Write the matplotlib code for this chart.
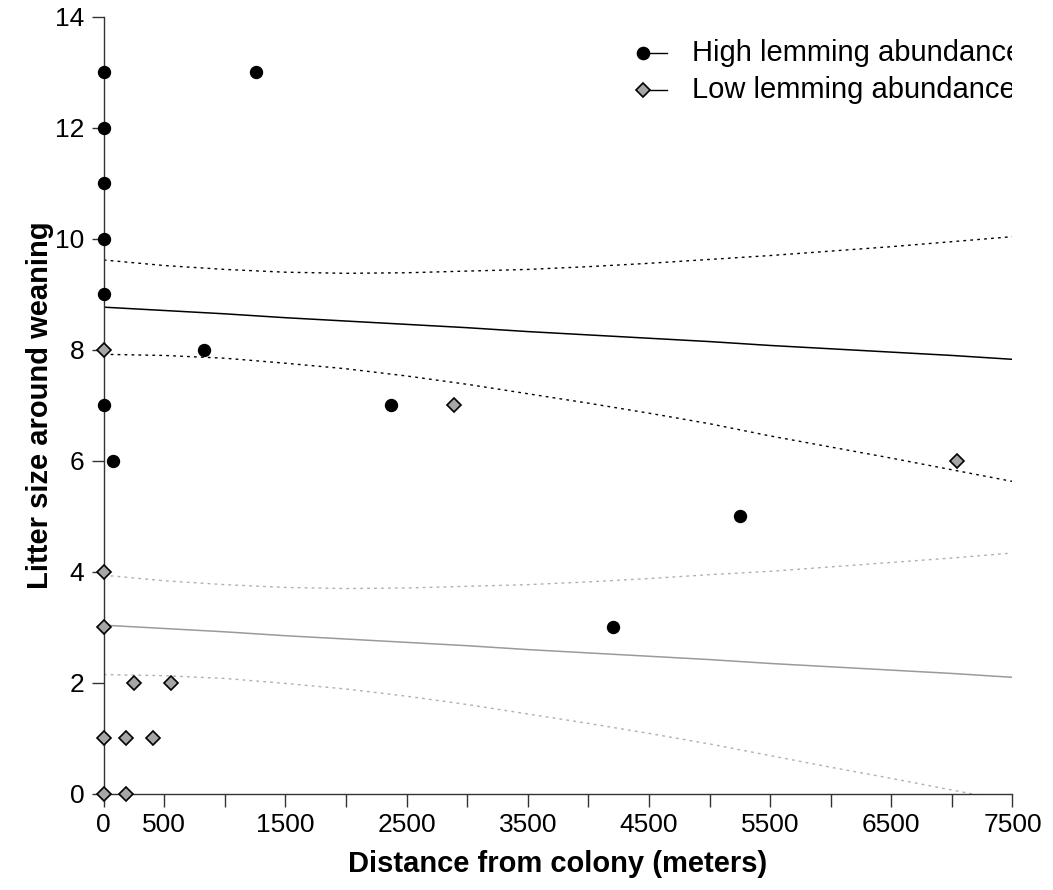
import matplotlib
matplotlib.use("Agg")
import matplotlib.pyplot as plt
import numpy as np

plt.rcParams['font.family'] = ['Liberation Sans', 'DejaVu Sans']

# observed litters
high_x = [0, 0, 0, 0, 0, 0, 80, 825, 1257, 2370, 4200, 5250]
high_y = [13, 12, 11, 10, 9, 7, 6, 8, 13, 7, 3, 5]
low_x = [0, 0, 0, 0, 0, 184, 184, 250, 404, 553, 2890, 7040]
low_y = [8, 4, 3, 1, 0, 1, 0, 2, 1, 2, 7, 6]

# fitted lines and confidence bands
fit_x = [0, 500, 1000, 1500, 2000, 2500, 3000, 3500, 4000,
         4500, 5000, 5500, 6000, 6500, 7000, 7500]
high_fit = [8.77, 8.71, 8.65, 8.58, 8.52, 8.46, 8.40, 8.33, 8.27,
            8.21, 8.15, 8.08, 8.02, 7.96, 7.90, 7.83]
high_upper = [9.62, 9.52, 9.45, 9.40, 9.38, 9.39, 9.42, 9.45, 9.50,
              9.56, 9.63, 9.70, 9.78, 9.86, 9.95, 10.04]
high_lower = [7.92, 7.90, 7.85, 7.76, 7.66, 7.53, 7.38, 7.21, 7.04,
              6.86, 6.67, 6.45, 6.25, 6.05, 5.84, 5.63]
low_fit = [3.04, 2.98, 2.92, 2.85, 2.79, 2.73, 2.67, 2.60, 2.54,
           2.48, 2.42, 2.35, 2.29, 2.23, 2.17, 2.10]
low_upper = [3.94, 3.84, 3.77, 3.72, 3.70, 3.71, 3.74, 3.77, 3.82,
             3.88, 3.95, 4.01, 4.09, 4.17, 4.25, 4.34]
low_lower = [2.15, 2.13, 2.08, 1.99, 1.89, 1.76, 1.61, 1.44, 1.27,
             1.09, 0.90, 0.69, 0.48, 0.28, 0.07, -0.14]

x_ticks = list(range(0, 7501, 500))
x_labels = ['0', '500', '', '1500', '', '2500', '', '3500', '', '4500',
            '', '5500', '', '6500', '', '7500']
y_ticks = [0, 2, 4, 6, 8, 10, 12, 14]

grey = '#a6a6a6'
grey_line = '#9a9a9a'

fig = plt.figure(figsize=(10.53, 8.9), dpi=100)
ax = fig.add_axes([0.0985, 0.108, 0.863, 0.873])

dots = dict(lw=1.0, dashes=(2, 3))
ax.plot(fit_x, high_fit, color='black', lw=1.1)
ax.plot(fit_x, high_upper, color='black', **dots)
ax.plot(fit_x, high_lower, color='black', **dots)
ax.plot(fit_x, low_fit, color=grey_line, lw=1.1)
ax.plot(fit_x, low_upper, color='#b0b0b0', **dots)
ax.plot(fit_x, low_lower, color='#b0b0b0', **dots)

ax.plot(high_x, high_y, 'o', color='black', ms=8.6, clip_on=False, zorder=5)
ax.plot(low_x, low_y, 'D', mfc=grey, mec='black', mew=1.2, ms=7,
        clip_on=False, zorder=5)

ax.set_xlim(0, 7500)
ax.set_ylim(0, 14)
ax.set_xticks(x_ticks)
ax.set_xticklabels(x_labels)
ax.set_yticks(y_ticks)
ax.tick_params(direction='out', length=9, width=1.0, color='#333333',
               labelsize=19, pad=5)
for side in ['top', 'right']:
    ax.spines[side].set_visible(False)
for side in ['left', 'bottom']:
    ax.spines[side].set_color('#333333')
    ax.spines[side].set_linewidth(1.0)

ax.set_xlabel('Distance from colony (meters)', fontsize=21,
              fontweight='bold', labelpad=9)
ax.set_ylabel('Litter size around weaning', fontsize=21,
              fontweight='bold', labelpad=1)

# legend drawn by hand so the text is cut at the plot edge like the original
rows = [('High lemming abundance', 0.954, 'o', 'black', 8.6),
        ('Low lemming abundance', 0.906, 'D', grey, 7)]
for label, yy, mk, fc, ms in rows:
    ax.plot([0.593, 0.620], [yy, yy], color='black', lw=1.0,
            transform=ax.transAxes, clip_on=False)
    ax.plot([0.593], [yy], mk, mfc=fc, mec='black', mew=1.2, ms=ms,
            transform=ax.transAxes, clip_on=False)
    ax.text(0.647, yy, label, fontsize=21, va='center', ha='left',
            transform=ax.transAxes, clip_on=True)

fig.savefig('out.png', dpi=100)
